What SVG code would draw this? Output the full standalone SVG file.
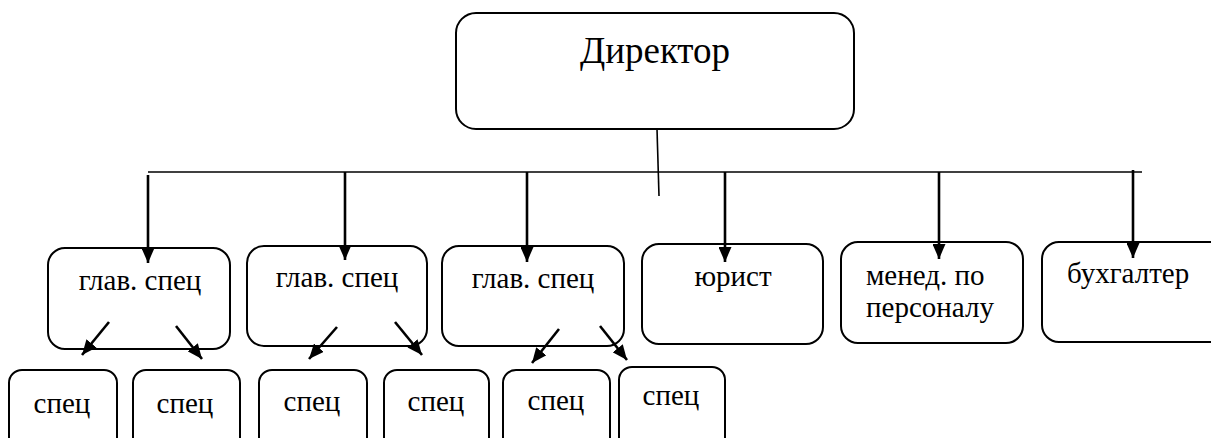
<svg xmlns="http://www.w3.org/2000/svg" width="1211" height="438" viewBox="0 0 1211 438">
  <style>
    .box { fill: #ffffff; stroke: #000000; stroke-width: 2; }
    .lbl { font-family: "Liberation Serif", "Times New Roman", serif; font-size: 29px; fill: #000000; }
    .big { font-size: 37px; }
    .bus { stroke: #000000; stroke-width: 1.6; fill: none; }
    .arr { stroke: #000000; stroke-width: 2.6; fill: none; marker-end: url(#head); }
  </style>
  <defs>
    <marker id="head" markerUnits="userSpaceOnUse" markerWidth="15" markerHeight="13" refX="15" refY="6.5" orient="auto">
      <path d="M0,0 L15,6.5 L0,13 Z" fill="#000000"/>
    </marker>
  </defs>
  <rect width="1211" height="438" fill="#ffffff"/>

  <!-- top level -->
  <g id="director">
    <rect class="box" x="456" y="13" width="398" height="116" rx="20"/>
    <text class="lbl big" x="655" y="63" text-anchor="middle">Директор</text>
  </g>

  <!-- second level -->
  <g id="chief1">
    <rect class="box" x="48" y="248" width="182" height="101" rx="17"/>
    <text class="lbl" x="140" y="290" text-anchor="middle">глав. спец</text>
  </g>
  <g id="chief2">
    <rect class="box" x="247" y="246" width="180" height="100" rx="17"/>
    <text class="lbl" x="337" y="287" text-anchor="middle">глав. спец</text>
  </g>
  <g id="chief3">
    <rect class="box" x="442" y="246" width="182" height="100" rx="17"/>
    <text class="lbl" x="533" y="288" text-anchor="middle">глав. спец</text>
  </g>
  <g id="lawyer">
    <rect class="box" x="642" y="244" width="181" height="100" rx="17"/>
    <text class="lbl" x="733" y="286" text-anchor="middle">юрист</text>
  </g>
  <g id="hr-manager">
    <rect class="box" x="841" y="242" width="182" height="101" rx="17"/>
    <text class="lbl" x="866" y="285">менед. по</text>
    <text class="lbl" x="866" y="317">персоналу</text>
  </g>
  <g id="accountant">
    <rect class="box" x="1042" y="242" width="186" height="100" rx="17"/>
    <text class="lbl" x="1067" y="283">бухгалтер</text>
  </g>

  <!-- third level -->
  <g id="spec1">
    <rect class="box" x="9" y="370" width="108" height="80" rx="13"/>
    <text class="lbl" x="62" y="413" text-anchor="middle">спец</text>
  </g>
  <g id="spec2">
    <rect class="box" x="133" y="370" width="107" height="80" rx="13"/>
    <text class="lbl" x="185" y="413" text-anchor="middle">спец</text>
  </g>
  <g id="spec3">
    <rect class="box" x="259" y="370" width="108" height="80" rx="13"/>
    <text class="lbl" x="312" y="411" text-anchor="middle">спец</text>
  </g>
  <g id="spec4">
    <rect class="box" x="384" y="370" width="105" height="80" rx="13"/>
    <text class="lbl" x="436" y="411" text-anchor="middle">спец</text>
  </g>
  <g id="spec5">
    <rect class="box" x="503" y="370" width="107" height="80" rx="13"/>
    <text class="lbl" x="556" y="410" text-anchor="middle">спец</text>
  </g>
  <g id="spec6">
    <rect class="box" x="619" y="367" width="106" height="83" rx="13"/>
    <text class="lbl" x="671" y="405" text-anchor="middle">спец</text>
  </g>

  <!-- connectors -->
  <g id="connectors">
    <line class="bus" x1="657" y1="129" x2="659" y2="196"/>
    <line class="bus" x1="148" y1="172" x2="1142" y2="172"/>

    <line class="arr" x1="148" y1="175" x2="148" y2="263"/>
    <line class="arr" x1="345" y1="172" x2="345" y2="260"/>
    <line class="arr" x1="527" y1="172" x2="527" y2="262"/>
    <line class="arr" x1="725" y1="172" x2="725" y2="262"/>
    <line class="arr" x1="939" y1="172" x2="939" y2="259"/>
    <line class="arr" x1="1133" y1="170" x2="1133" y2="258"/>

    <line class="arr" x1="109" y1="322" x2="82" y2="355"/>
    <line class="arr" x1="176" y1="326" x2="202" y2="359"/>
    <line class="arr" x1="337" y1="327" x2="309" y2="359"/>
    <line class="arr" x1="395" y1="322" x2="422" y2="355"/>
    <line class="arr" x1="559" y1="329" x2="532" y2="363"/>
    <line class="arr" x1="600" y1="326" x2="627" y2="360"/>
  </g>
</svg>
